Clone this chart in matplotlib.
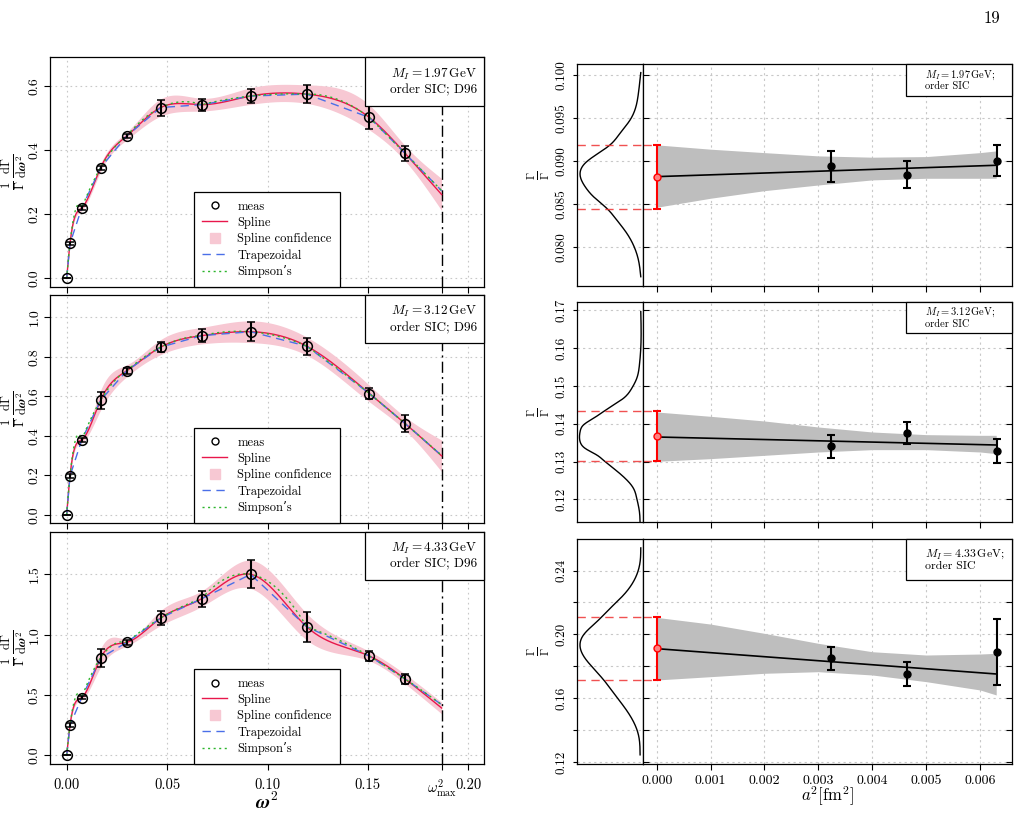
import numpy as np
import matplotlib
matplotlib.use('Agg')
import matplotlib.pyplot as plt
from matplotlib.patches import Rectangle
from matplotlib.lines import Line2D

plt.rcParams['font.family'] = ['cmr10', 'DejaVu Serif']
plt.rcParams['mathtext.fontset'] = 'cm'
plt.rcParams['axes.unicode_minus'] = False
plt.rcParams['axes.formatter.use_mathtext'] = True

# ---------------- left column data ----------------
omega2 = [0.0, 0.00166, 0.0075, 0.0169, 0.0299, 0.0468, 0.0672, 0.0916, 0.1195, 0.1507, 0.1685]
omega2_max = 0.1867

meas_197 = [0.0, 0.109, 0.220, 0.346, 0.445, 0.534, 0.543, 0.570, 0.576, 0.503, 0.391]
err_197 = [0.0, 0.004, 0.005, 0.006, 0.007, 0.025, 0.019, 0.022, 0.028, 0.037, 0.024]
band_197 = [0.0, 0.005, 0.008, 0.012, 0.012, 0.027, 0.020, 0.026, 0.029, 0.039, 0.024, 0.050]

meas_312 = [0.0, 0.196, 0.379, 0.580, 0.729, 0.849, 0.907, 0.927, 0.854, 0.614, 0.462]
err_312 = [0.0, 0.010, 0.010, 0.044, 0.015, 0.027, 0.034, 0.049, 0.043, 0.030, 0.041]
band_312 = [0.0, 0.010, 0.015, 0.050, 0.030, 0.038, 0.042, 0.055, 0.046, 0.042, 0.034, 0.080]

meas_433 = [0.0, 0.249, 0.478, 0.807, 0.936, 1.138, 1.298, 1.500, 1.066, 0.823, 0.633]
err_433 = [0.0, 0.015, 0.015, 0.077, 0.020, 0.055, 0.066, 0.117, 0.123, 0.044, 0.044]
band_433 = [0.0, 0.015, 0.020, 0.076, 0.030, 0.062, 0.065, 0.117, 0.110, 0.040, 0.040, 0.048]

spline_end = [0.262, 0.298, 0.392]
quad_end = [0.274, 0.300, 0.420]
mass_labels = ['1.97', '3.12', '4.33']

# ---------------- right column data ----------------
a2 = [0.00323, 0.00464, 0.00631]
fit_x = [0.0, 0.0063]
band_x = [0.0, 0.001, 0.002, 0.003, 0.004, 0.005, 0.006, 0.0063]

gam_197 = [0.08942, 0.08845, 0.09004]
gerr_197 = [0.0018, 0.0016, 0.0018]
extrap_197, extrap_err_197 = 0.08822, 0.00372
fit_197 = [0.08821, 0.08953]
band_hi_197 = [0.09190, 0.09140, 0.09100, 0.09062, 0.09047, 0.09054, 0.09100, 0.09120]
band_lo_197 = [0.08465, 0.08570, 0.08658, 0.08724, 0.08783, 0.08802, 0.08802, 0.08802]

gam_312 = [0.13402, 0.13755, 0.13278]
gerr_312 = [0.0030, 0.0029, 0.0033]
extrap_312, extrap_err_312 = 0.13667, 0.0066
fit_312 = [0.13649, 0.13437]
band_hi_312 = [0.14310, 0.14196, 0.14072, 0.13913, 0.13781, 0.13711, 0.13693, 0.13693]
band_lo_312 = [0.13005, 0.13076, 0.13164, 0.13252, 0.13314, 0.13314, 0.13252, 0.13208]

gam_433 = [0.18497, 0.17515, 0.18914]
gerr_433 = [0.0073, 0.0076, 0.0207]
extrap_433, extrap_err_433 = 0.19123, 0.0198
fit_433 = [0.19103, 0.17515]
band_hi_433 = [0.21064, 0.20645, 0.20063, 0.19437, 0.18911, 0.18704, 0.18767, 0.18810]
band_lo_433 = [0.17139, 0.17346, 0.17558, 0.17659, 0.17452, 0.17034, 0.16513, 0.16200]

# distribution of the extrapolated value
kde_y_197 = [0.10030, 0.09791, 0.09480, 0.09326, 0.09190, 0.09054, 0.08977, 0.08841,
             0.08705, 0.08589, 0.08453, 0.08317, 0.08163, 0.08007, 0.07852, 0.07658]
kde_d_197 = [0.016, 0.054, 0.189, 0.351, 0.514, 0.784, 0.919, 1.0,
             0.919, 0.784, 0.568, 0.405, 0.243, 0.124, 0.054, 0.016]
kde_y_312 = [0.16965, 0.15995, 0.15553, 0.15201, 0.14937, 0.14672, 0.14495, 0.14319, 0.14143,
             0.13966, 0.13790, 0.13526, 0.13349, 0.13173, 0.12997, 0.12820, 0.12556, 0.12291,
             0.12026, 0.11674, 0.11365]
kde_d_312 = [0.016, 0.016, 0.038, 0.081, 0.162, 0.297, 0.459, 0.622, 0.784,
             0.946, 1.0, 1.0, 0.919, 0.730, 0.595, 0.459, 0.270, 0.135,
             0.081, 0.038, 0.027]
kde_y_433 = [0.25422, 0.24545, 0.23506, 0.22460, 0.21628, 0.20789, 0.19956, 0.19224,
             0.18497, 0.17871, 0.17036, 0.16200, 0.15367, 0.14528, 0.13696, 0.12444]
kde_d_433 = [0.016, 0.027, 0.108, 0.297, 0.514, 0.730, 0.946, 1.0,
             0.919, 0.784, 0.595, 0.432, 0.270, 0.135, 0.054, 0.027]


def natural_cubic(x, y, xs):
    x = np.asarray(x, float); y = np.asarray(y, float); xs = np.asarray(xs, float)
    n = len(x)
    h = np.diff(x)
    A = np.zeros((n, n)); b = np.zeros(n)
    A[0, 0] = A[-1, -1] = 1
    for i in range(1, n - 1):
        A[i, i - 1] = h[i - 1]; A[i, i] = 2 * (h[i - 1] + h[i]); A[i, i + 1] = h[i]
        b[i] = 6 * ((y[i + 1] - y[i]) / h[i] - (y[i] - y[i - 1]) / h[i - 1])
    M = np.linalg.solve(A, b)
    idx = np.clip(np.searchsorted(x, xs) - 1, 0, n - 2)
    x0 = x[idx]; x1 = x[idx + 1]; hh = x1 - x0
    t0 = x1 - xs; t1 = xs - x0
    return ((M[idx] * t0 ** 3 + M[idx + 1] * t1 ** 3) / (6 * hh)
            + (y[idx] / hh - M[idx] * hh / 6) * t0 + (y[idx + 1] / hh - M[idx + 1] * hh / 6) * t1)


def piecewise_quad(x, y, xs):
    x = np.asarray(x, float); y = np.asarray(y, float)
    n = len(x)
    out = np.zeros_like(xs)
    starts = list(range(0, n - 2, 2))
    if starts[-1] + 2 < n - 1:
        starts.append(n - 3)
    for s in starts:
        m = (xs >= x[s]) & (xs <= x[s + 2])
        xx = xs[m]
        a, bb, c = x[s], x[s + 1], x[s + 2]
        out[m] = (y[s] * (xx - bb) * (xx - c) / ((a - bb) * (a - c))
                  + y[s + 1] * (xx - a) * (xx - c) / ((bb - a) * (bb - c))
                  + y[s + 2] * (xx - a) * (xx - bb) / ((c - a) * (c - bb)))
    return out


W, H = 1018, 813
fig = plt.figure(figsize=(W / 100, H / 100), dpi=100)


def frac_axes(x0, y0, x1, y1):
    return fig.add_axes([x0 / W, 1 - y1 / H, (x1 - x0) / W, (y1 - y0) / H])


SPLINE_C = '#e8174b'
BAND_C = '#f7c8d3'
TRAP_C = '#4a6fe8'
SIMP_C = '#2db52d'
GRID_C = '#c8c8c8'

left_boxes = [(57, 287), (295, 523), (532, 764)]
left_meas = [meas_197, meas_312, meas_433]
left_err = [err_197, err_312, err_433]
left_band = [band_197, band_312, band_433]
left_ylim = [(-0.027, 0.692), (-0.042, 1.113), (-0.072, 1.851)]
left_yticks = [[0.0, 0.2, 0.4, 0.6], [0.0, 0.2, 0.4, 0.6, 0.8, 1.0], [0.0, 0.5, 1.0, 1.5]]
box_bottom = [0.787, 0.789, 0.793]

for k in range(3):
    y0, y1 = left_boxes[k]
    ax = frac_axes(50, y0, 484, y1)
    xk = np.array(omega2 + [omega2_max])
    ys = np.array(left_meas[k] + [spline_end[k]])
    yq = np.array(left_meas[k] + [quad_end[k]])
    xs = np.linspace(0, omega2_max, 800)
    spl = natural_cubic(xk, ys, xs)
    hw = np.clip(natural_cubic(xk, left_band[k], xs), 0, None)
    ax.fill_between(xs, spl - hw, spl + hw, color=BAND_C, lw=0, zorder=1)
    ax.plot(xs, spl, color=SPLINE_C, lw=1.0, zorder=3)
    ax.plot(xk, yq, color=TRAP_C, lw=1.0, dashes=(6, 4), zorder=3)
    ax.plot(xs, piecewise_quad(xk, yq, xs), color=SIMP_C, lw=1.0, dashes=(1.5, 2.5), zorder=3)
    ax.errorbar(omega2, left_meas[k], yerr=left_err[k], fmt='o', ms=7, mfc='none',
                mec='black', mew=1.1, ecolor='black', elinewidth=1.5, capsize=3,
                capthick=1.5, zorder=4)
    ax.axvline(omega2_max, color='black', lw=1.0, ls=(0, (8, 3, 1.5, 3)), zorder=2)
    for v in [0.0, 0.05, 0.10, 0.15, 0.20]:
        ax.axvline(v, color=GRID_C, lw=0.8, ls=(0, (1.5, 3)), zorder=0)
    for v in left_yticks[k]:
        ax.axhline(v, color=GRID_C, lw=0.8, ls=(0, (1.5, 3)), zorder=0)
    ax.set_xlim(-0.0083, 0.2078)
    ax.set_ylim(*left_ylim[k])
    ax.set_xticks([0.0, 0.05, 0.10, 0.15, omega2_max, 0.20])
    ax.set_yticks(left_yticks[k])
    ax.set_yticklabels(['%.1f' % v for v in left_yticks[k]], rotation=90, va='center', fontsize=10)
    ax.tick_params(direction='out', length=4, width=0.8)
    ax.tick_params(axis='y', pad=2.5)
    ax.tick_params(axis='x', pad=6)
    if k == 2:
        ax.set_xticklabels(['0.00', '0.05', '0.10', '0.15', r'$\omega^2_{\max}$', '0.20'], fontsize=10.5)
        ax.set_xlabel(r'$\boldsymbol{\omega}^2$', fontsize=14)
        ax.xaxis.set_label_coords(0.5, -0.118)
    else:
        ax.set_xticklabels([])
    ax.set_ylabel(r'$\frac{1}{\Gamma}\,\frac{\mathrm{d}\Gamma}{\mathrm{d}\boldsymbol{\omega}^2}$', fontsize=13)
    ax.yaxis.set_label_coords(-0.045, 0.5)
    for s in ax.spines.values():
        s.set_linewidth(0.9)
    # info box
    ax.add_patch(Rectangle((0.726, box_bottom[k]), 0.274, 1 - box_bottom[k], transform=ax.transAxes,
                           fill=True, fc='white', ec='black', lw=0.9, zorder=6, clip_on=False))
    ax.text(0.984, (1 + box_bottom[k]) / 2,
            r'$M_I = %s\,\mathrm{GeV}$' % mass_labels[k] + '\norder SIC; D96',
            transform=ax.transAxes, ha='right', va='center', multialignment='right',
            fontsize=9.5, linespacing=1.25, zorder=7)
    handles = [
        Line2D([], [], ls='none', marker='o', ms=5, mfc='none', mec='black', mew=1.0),
        Line2D([], [], color=SPLINE_C, lw=1.0),
        Line2D([], [], ls='none', marker='s', ms=7, mfc=BAND_C, mec=BAND_C),
        Line2D([], [], color=TRAP_C, lw=1.0, dashes=(6, 4)),
        Line2D([], [], color=SIMP_C, lw=1.0, dashes=(1.5, 2.5)),
    ]
    labels = ['meas', 'Spline', 'Spline confidence', 'Trapezoidal', "Simpson\u2019s"]
    leg = ax.legend(handles, labels, loc='lower center', bbox_to_anchor=(0.5, 0.0),
                    borderaxespad=0.0, fontsize=9, frameon=True, fancybox=False,
                    framealpha=1, edgecolor='black', handlelength=2.0, labelspacing=0.3,
                    borderpad=0.7, handletextpad=0.8)
    leg.get_frame().set_linewidth(0.9)
    leg.set_zorder(8)

# ---------------- right column ----------------
right_boxes = [(64, 286), (302, 522), (539, 764)]
r_gam = [gam_197, gam_312, gam_433]
r_gerr = [gerr_197, gerr_312, gerr_433]
r_ext = [extrap_197, extrap_312, extrap_433]
r_exterr = [extrap_err_197, extrap_err_312, extrap_err_433]
r_fit = [fit_197, fit_312, fit_433]
r_bhi = [band_hi_197, band_hi_312, band_hi_433]
r_blo = [band_lo_197, band_lo_312, band_lo_433]
r_kde_y = [kde_y_197, kde_y_312, kde_y_433]
r_kde_d = [kde_d_197, kde_d_312, kde_d_433]
r_ylim = [(0.0755, 0.1013), (0.1140, 0.1722), (0.1187, 0.2598)]
r_yticks = [[0.080, 0.085, 0.090, 0.095, 0.100],
            [0.12, 0.13, 0.14, 0.15, 0.16, 0.17],
            [0.12, 0.14, 0.16, 0.18, 0.20, 0.22, 0.24]]
r_ylabels = [['0.080', '0.085', '0.090', '0.095', '0.100'],
             ['0.12', '0.13', '0.14', '0.15', '0.16', '0.17'],
             ['0.12', '', '0.16', '', '0.20', '', '0.24']]
r_box_bottom = [0.856, 0.859, 0.818]
r_fs = [7.5, 7.5, 8.5]
r_ls = [1.0, 1.0, 1.15]
xlim_r = (-0.000254, 0.006593)

for k in range(3):
    y0, y1 = right_boxes[k]
    axk = frac_axes(577, y0, 643, y1)
    ax = frac_axes(643, y0, 1012, y1)
    ylo, yhi = r_ylim[k]
    # side distribution
    ky = np.array(r_kde_y[k])[::-1]
    kd = np.array(r_kde_d[k])[::-1]
    yy = np.linspace(ky[0], ky[-1], 400)
    axk.plot(natural_cubic(ky, kd, yy), yy, color='black', lw=1.0)
    axk.set_xlim(1.05, -0.02)
    axk.set_ylim(ylo, yhi)
    axk.set_xticks([])
    axk.set_yticks(r_yticks[k])
    axk.set_yticklabels(r_ylabels[k], rotation=90, va='center', fontsize=9.5)
    axk.tick_params(axis='y', direction='out', length=3, width=0.8)
    for v in r_yticks[k]:
        axk.axhline(v, color=GRID_C, lw=0.8, ls=(0, (2, 3)), zorder=0)
    for v in (r_ext[k] - r_exterr[k], r_ext[k] + r_exterr[k]):
        axk.axhline(v, color='#ee3333', lw=1.0, dashes=(6, 4), alpha=0.85)
    axk.set_ylabel(r'$\frac{\Gamma}{\Gamma}$', fontsize=12)
    axk.yaxis.set_label_coords(-0.38, 0.5)
    for s in axk.spines.values():
        s.set_linewidth(0.9)

    # main extrapolation panel
    ax.fill_between(band_x, r_blo[k], r_bhi[k], color='#bebebe', lw=0, zorder=1)
    ax.plot(fit_x, r_fit[k], color='black', lw=1.2, zorder=3)
    ax.errorbar(a2, r_gam[k], yerr=r_gerr[k], fmt='o', ms=5, color='black',
                elinewidth=1.5, capsize=3, capthick=1.5, zorder=4)
    ax.errorbar([0.0], [r_ext[k]], yerr=[r_exterr[k]], fmt='o', ms=5, mfc='#ff8080',
                mec='red', color='red', elinewidth=1.5, capsize=3, capthick=1.5, zorder=4)
    for v in (r_ext[k] - r_exterr[k], r_ext[k] + r_exterr[k]):
        ax.plot([xlim_r[0], 0.0], [v, v], color='#ee3333', lw=1.0, dashes=(6, 4), alpha=0.85)
    for v in np.arange(0, 7) * 0.001:
        ax.axvline(v, color=GRID_C, lw=0.8, ls=(0, (2, 3)), zorder=0)
    for v in r_yticks[k]:
        ax.axhline(v, color=GRID_C, lw=0.8, ls=(0, (2, 3)), zorder=0)
    ax.set_xlim(*xlim_r)
    ax.set_ylim(ylo, yhi)
    ax.set_yticks(r_yticks[k])
    ax.set_yticklabels([])
    ax.tick_params(axis='y', left=True, right=True, direction='in', length=4, width=0.8)
    ax.set_xticks(np.arange(0, 7) * 0.001)
    ax.tick_params(axis='x', direction='out', length=4, width=0.8)
    if k == 2:
        ax.set_xticklabels(['%.3f' % (i * 0.001) for i in range(7)], fontsize=10)
        ax.set_xlabel(r'$a^2[\mathrm{fm}^2]$', fontsize=12)
        ax.xaxis.set_label_coords(0.5, -0.093)
    else:
        ax.set_xticklabels([])
    for s in ax.spines.values():
        s.set_linewidth(0.9)
    ax.add_patch(Rectangle((0.713, r_box_bottom[k]), 0.287, 1 - r_box_bottom[k], transform=ax.transAxes,
                           fc='white', ec='black', lw=0.9, zorder=6, clip_on=False))
    ax.text(0.764, (1 + r_box_bottom[k]) / 2,
            r'$M_I = %s\,\mathrm{GeV}$;' % mass_labels[k] + '\norder SIC',
            transform=ax.transAxes, ha='left', va='center', fontsize=r_fs[k],
            linespacing=r_ls[k], zorder=7)

fig.text(0.983, 0.978, '19', fontsize=12, ha='right', va='center')

fig.savefig('out.png', dpi=100)
